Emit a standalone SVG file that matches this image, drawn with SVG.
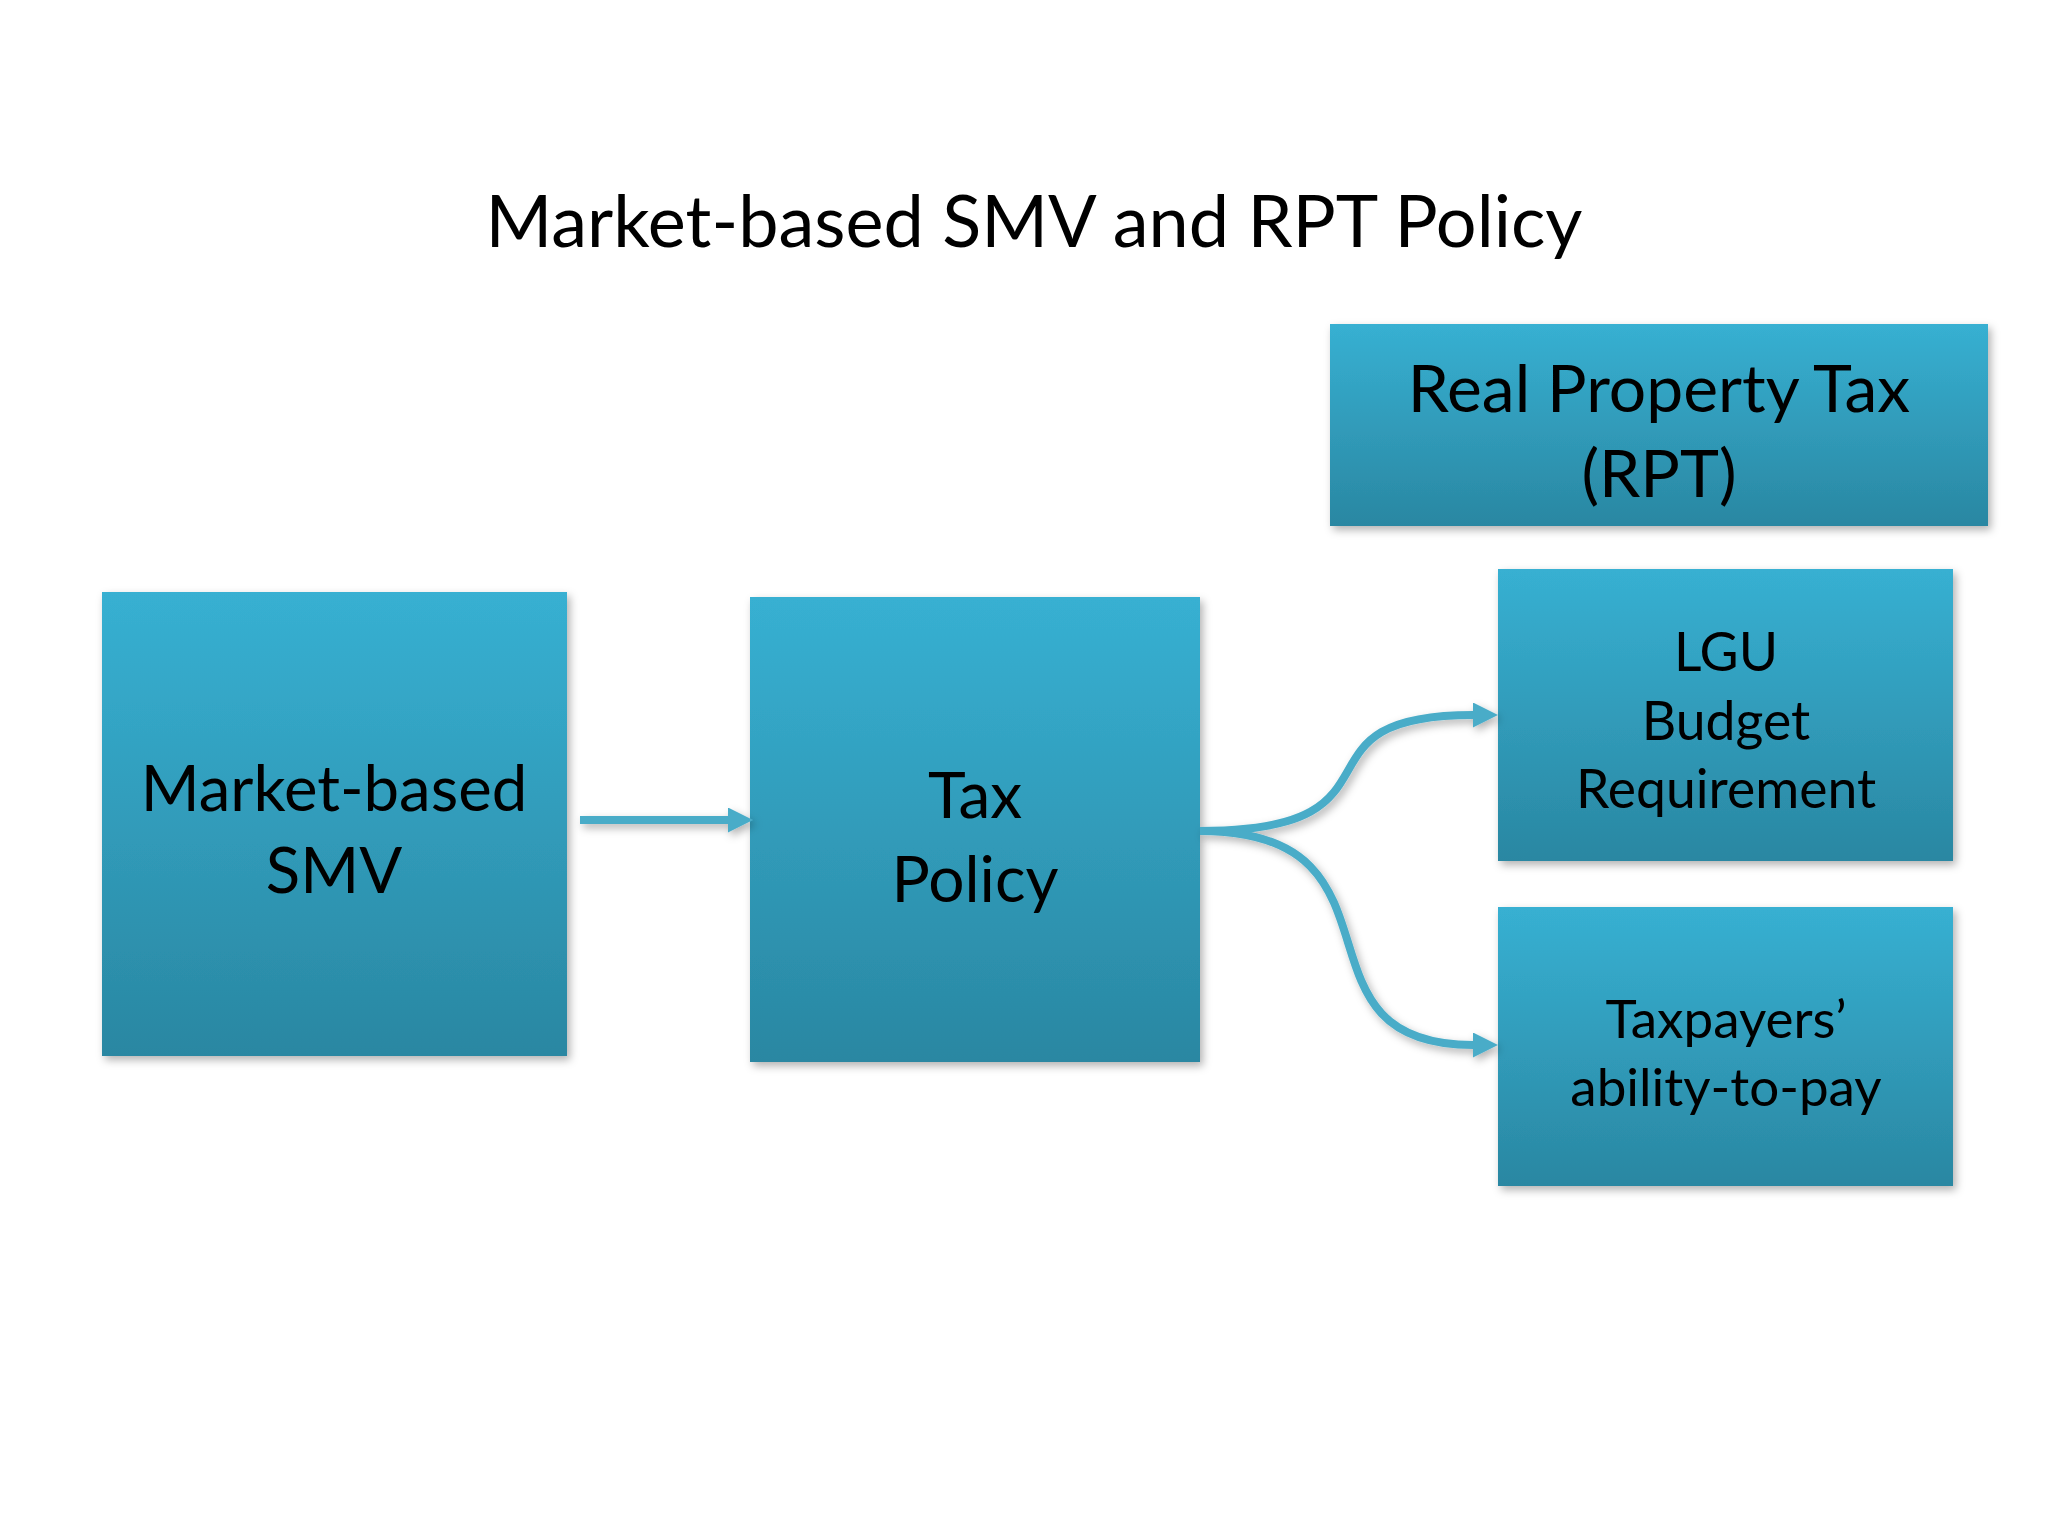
<svg xmlns="http://www.w3.org/2000/svg" width="2048" height="1536" viewBox="0 0 2048 1536">
<style>
  .box { fill: url(#boxGrad); filter: url(#shadow); }
  .lbl { font-family: Lato, "Open Sans", sans-serif; fill: #000; text-anchor: middle; }
  .conn { fill: none; stroke: #4AACC8; stroke-width: 8; }
</style>
<defs>
  <linearGradient id="boxGrad" x1="0" y1="0" x2="0" y2="1">
    <stop offset="0" stop-color="#37B0D2"/>
    <stop offset="1" stop-color="#2A87A2"/>
  </linearGradient>
  <filter id="shadow" x="-10%" y="-10%" width="125%" height="125%">
    <feDropShadow dx="3" dy="4" stdDeviation="4" flood-color="#000" flood-opacity="0.3"/>
  </filter>
  <marker id="arrow" markerUnits="userSpaceOnUse" markerWidth="26" markerHeight="26" refX="0" refY="12.5" orient="auto">
    <path d="M0,0 L25,12.5 L0,25 Z" fill="#4AACC8"/>
  </marker>
</defs>
<rect width="2048" height="1536" fill="#FFFFFF"/>
<text id="title" class="lbl" x="1034" y="247" font-size="72">Market-based SMV and RPT Policy</text>

<g id="node-rpt">
  <rect class="box" x="1330" y="324" width="658" height="202"/>
  <text class="lbl" x="1659" y="412" font-size="66">Real Property Tax</text>
  <text class="lbl" x="1659" y="497" font-size="66">(RPT)</text>
</g>
<g id="node-smv">
  <rect class="box" x="102" y="592" width="465" height="464"/>
  <text class="lbl" x="334" y="811" font-size="63.5">Market-based</text>
  <text class="lbl" x="334" y="893" font-size="63.5">SMV</text>
</g>
<g id="node-taxpolicy">
  <rect class="box" x="750" y="597" width="450" height="465"/>
  <text class="lbl" x="975" y="818" font-size="64">Tax</text>
  <text class="lbl" x="975" y="902" font-size="64">Policy</text>
</g>
<g id="node-lgu">
  <rect class="box" x="1498" y="569" width="455" height="292"/>
  <text class="lbl" x="1726" y="671" font-size="53.5">LGU</text>
  <text class="lbl" x="1726" y="740" font-size="53.5">Budget</text>
  <text class="lbl" x="1726" y="808" font-size="53.5">Requirement</text>
</g>
<g id="node-taxpayers">
  <rect class="box" x="1498" y="907" width="455" height="279"/>
  <text class="lbl" x="1726" y="1038" font-size="53">Taxpayers’</text>
  <text class="lbl" x="1726" y="1106" font-size="53">ability-to-pay</text>
</g>

<g id="connectors" filter="url(#shadow)">
  <path class="conn" d="M580,820 L728,820" marker-end="url(#arrow)"/>
  <path class="conn" d="M1200,831 C1420,831 1280,715 1473,715" marker-end="url(#arrow)"/>
  <path class="conn" d="M1200,831 C1420,831 1280,1045 1473,1045" marker-end="url(#arrow)"/>
</g>
</svg>
